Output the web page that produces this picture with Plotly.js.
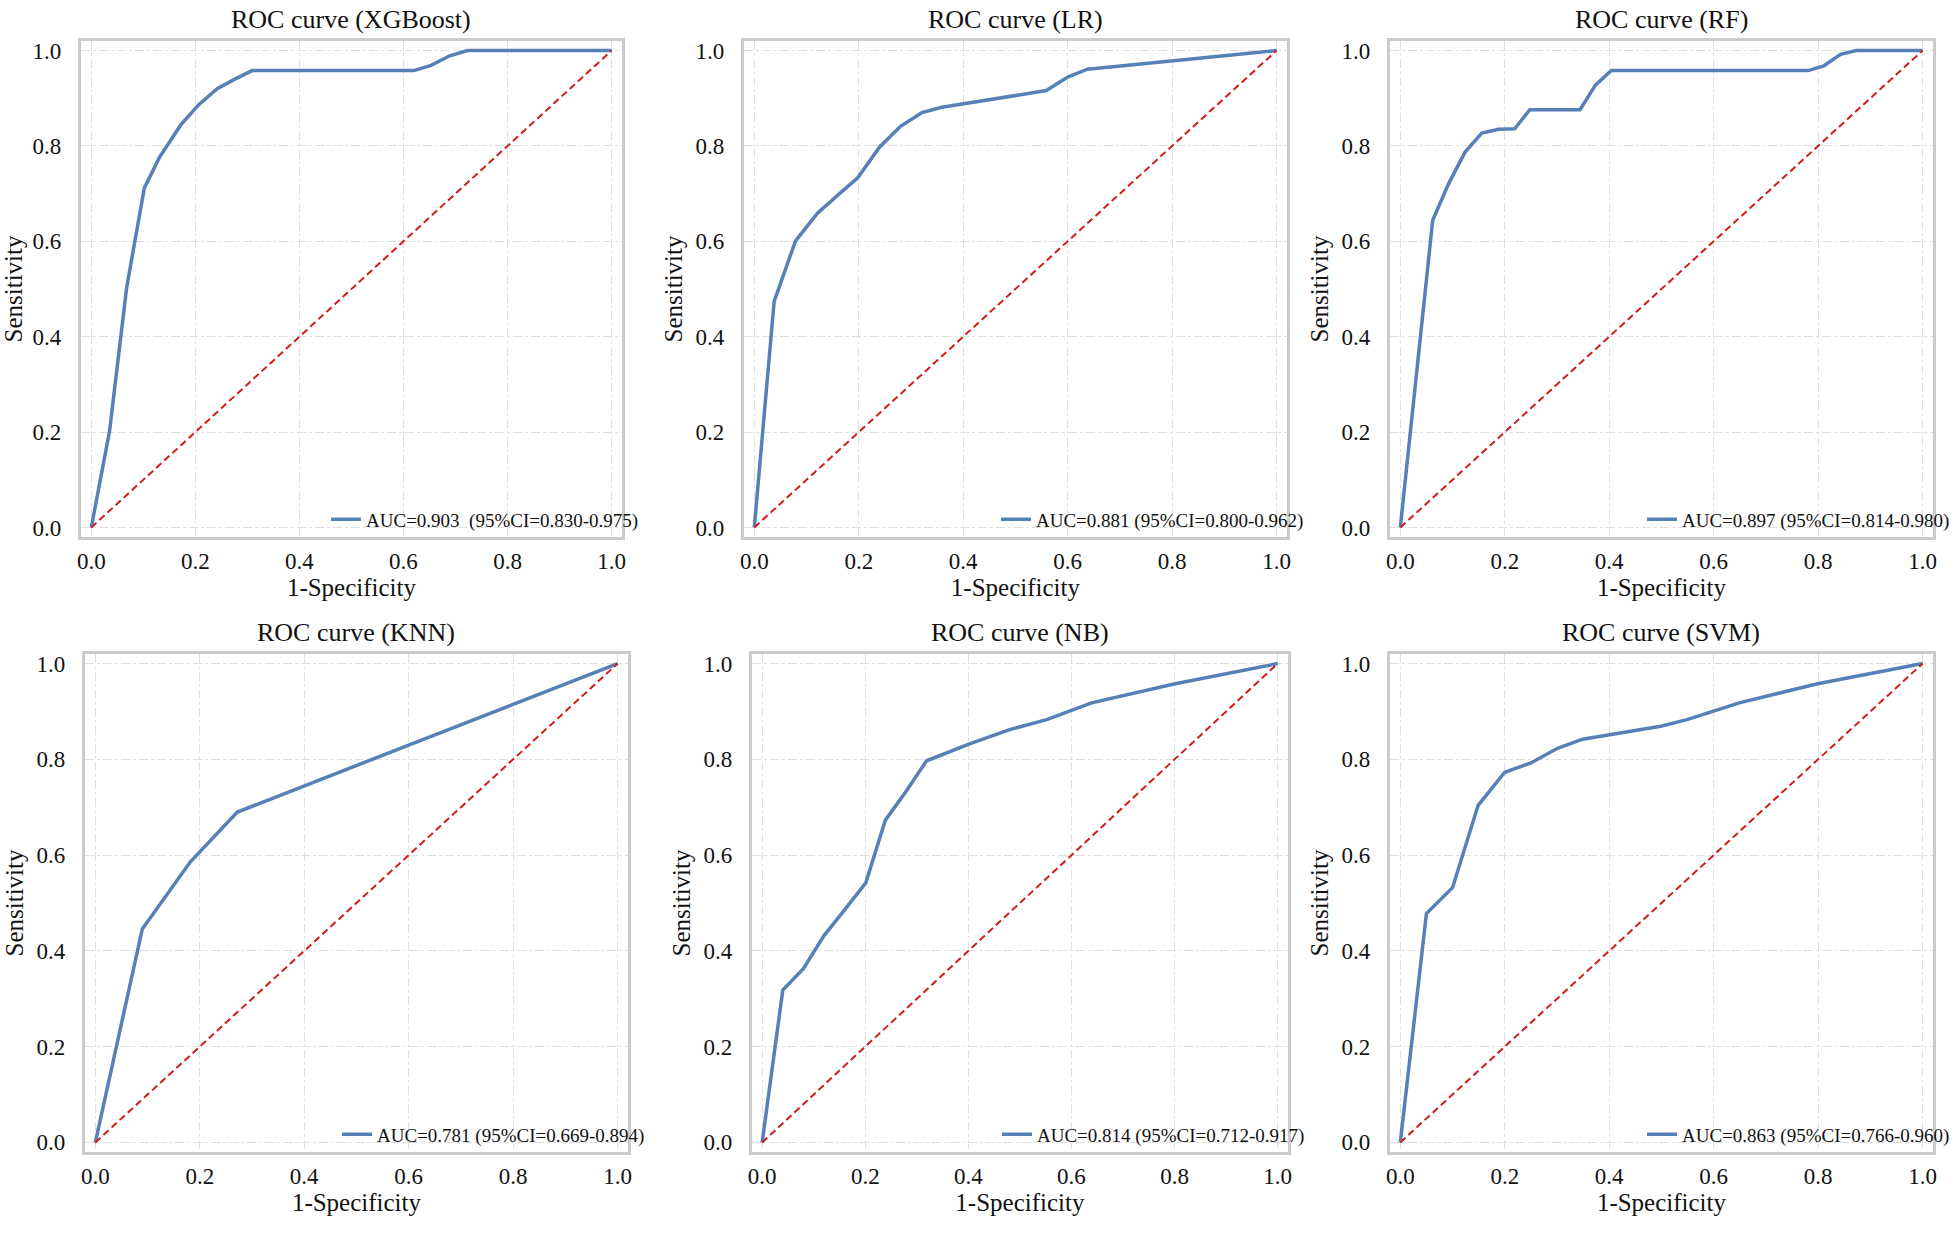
<!DOCTYPE html>
<html>
<head>
<meta charset="utf-8">
<script src="https://cdn.plot.ly/plotly-3.0.1.min.js"></script>
<style>
  html, body { margin: 0; padding: 0; background: #fff; }
  #chart { width: 1955px; height: 1233px; }
</style>
</head>
<body>
<div id="chart"></div>
<script>
// ROC points: x = 1-Specificity, y = Sensitivity
var fpr_xgb = [0, 0.035, 0.068, 0.102, 0.131, 0.172, 0.206, 0.242, 0.274, 0.309, 0.620, 0.653, 0.689, 0.723, 1];
var tpr_xgb = [0, 0.201, 0.503, 0.712, 0.776, 0.844, 0.886, 0.920, 0.939, 0.958, 0.958, 0.969, 0.989, 1.0, 1];

var fpr_lr = [0, 0.038, 0.079, 0.121, 0.161, 0.198, 0.240, 0.280, 0.321, 0.359, 0.559, 0.601, 0.638, 1];
var tpr_lr = [0, 0.474, 0.601, 0.659, 0.698, 0.733, 0.798, 0.841, 0.870, 0.881, 0.916, 0.945, 0.961, 1];

var fpr_rf = [0, 0.062, 0.093, 0.124, 0.156, 0.188, 0.219, 0.248, 0.344, 0.374, 0.404, 0.781, 0.811, 0.843, 0.873, 1];
var tpr_rf = [0, 0.644, 0.722, 0.787, 0.827, 0.835, 0.836, 0.876, 0.876, 0.928, 0.958, 0.958, 0.968, 0.992, 1.0, 1];

var fpr_knn = [0, 0.090, 0.182, 0.272, 1];
var tpr_knn = [0, 0.446, 0.586, 0.690, 1];

var fpr_nb = [0, 0.040, 0.080, 0.120, 0.161, 0.201, 0.239, 0.279, 0.319, 0.401, 0.480, 0.552, 0.639, 0.801, 1];
var tpr_nb = [0, 0.318, 0.363, 0.432, 0.487, 0.542, 0.673, 0.733, 0.797, 0.832, 0.862, 0.883, 0.918, 0.958, 1];

var fpr_svm = [0, 0.050, 0.100, 0.149, 0.200, 0.249, 0.301, 0.349, 0.499, 0.549, 0.649, 0.799, 1];
var tpr_svm = [0, 0.478, 0.532, 0.704, 0.773, 0.792, 0.823, 0.842, 0.869, 0.883, 0.918, 0.958, 1];

var models = ['XGBoost', 'LR', 'RF', 'KNN', 'NB', 'SVM'];
var auc_labels = [
  'AUC=0.903\u00a0 (95%CI=0.830-0.975)',
  'AUC=0.881 (95%CI=0.800-0.962)',
  'AUC=0.897 (95%CI=0.814-0.980)',
  'AUC=0.781 (95%CI=0.669-0.894)',
  'AUC=0.814 (95%CI=0.712-0.917)',
  'AUC=0.863 (95%CI=0.766-0.960)'
];
var diag = [0, 1];
var tick_vals = [0, 0.2, 0.4, 0.6, 0.8, 1.0];
var tick_text = ['0.0', '0.2', '0.4', '0.6', '0.8', '1.0'];

var curves = [
  [fpr_xgb, tpr_xgb], [fpr_lr, tpr_lr], [fpr_rf, tpr_rf],
  [fpr_knn, tpr_knn], [fpr_nb, tpr_nb], [fpr_svm, tpr_svm]
];

var W = 1955, H = 1233;
// plot boxes in page pixels: left, right, top, bottom
var boxes = [
  [81, 623, 41, 537], [745, 1289, 41, 537], [1392, 1936, 41, 537],
  [85, 629, 654, 1152], [753, 1290, 654, 1152], [1392, 1936, 654, 1152]
];
var lo = -0.02, hi = 1.02;
var serif = 'Liberation Serif, Times New Roman, serif';

var data = [];
var layout = {
  width: W, height: H,
  margin: {l: 0, r: 0, t: 0, b: 0},
  paper_bgcolor: '#fff', plot_bgcolor: '#fff',
  font: {family: serif, color: '#111', size: 23},
  annotations: [],
  showlegend: true
};

for (var i = 0; i < 6; i++) {
  var sfx = i === 0 ? '' : String(i + 1);
  var b = boxes[i];

  data.push({
    x: curves[i][0], y: curves[i][1],
    type: 'scatter', mode: 'lines',
    name: auc_labels[i],
    line: {color: '#5581b6', width: 3.5},
    xaxis: 'x' + sfx, yaxis: 'y' + sfx,
    legend: 'legend' + sfx
  });
  data.push({
    x: diag, y: diag,
    type: 'scatter', mode: 'lines',
    showlegend: false,
    line: {color: '#d01c1c', width: 2, dash: '7px,4px'},
    xaxis: 'x' + sfx, yaxis: 'y' + sfx
  });

  layout['xaxis' + sfx] = {
    domain: [b[0] / W, b[1] / W], anchor: 'y' + sfx,
    range: [lo, hi], tickvals: tick_vals, ticktext: tick_text,
    showgrid: true, gridcolor: '#e0e0e0', gridwidth: 1, griddash: 'dashdot',
    zeroline: false, showline: true, mirror: true, linecolor: '#cbcbcb', linewidth: 3,
    ticks: '', ticklabelstandoff: 1, tickfont: {size: 23},
    title: {text: '1-Specificity', font: {size: 25}, standoff: 2},
    fixedrange: true
  };
  layout['yaxis' + sfx] = {
    domain: [1 - b[3] / H, 1 - b[2] / H], anchor: 'x' + sfx,
    range: [lo, hi], tickvals: tick_vals, ticktext: tick_text,
    showgrid: true, gridcolor: '#e0e0e0', gridwidth: 1, griddash: 'dashdot',
    zeroline: false, showline: true, mirror: true, linecolor: '#cbcbcb', linewidth: 3,
    ticks: '', ticklabelstandoff: 12, tickfont: {size: 23},
    title: {text: 'Sensitivity', font: {size: 25}, standoff: 6},
    fixedrange: true
  };

  // legend sits at the lower right, spilling a little past the frame
  var legY = b[3] - (0.017 - lo) / (hi - lo) * (b[3] - b[2]);
  layout['legend' + sfx] = {
    x: (b[1] + 22) / W, xanchor: 'right',
    y: 1 - legY / H, yanchor: 'middle',
    bgcolor: 'rgba(0,0,0,0)', borderwidth: 0,
    font: {family: serif, size: 19, color: '#111'},
    tracegroupgap: 0
  };

  layout.annotations.push({
    text: 'ROC curve (' + models[i] + ')',
    xref: 'x' + sfx + ' domain', yref: 'y' + sfx + ' domain',
    x: 0.5, y: 1, xanchor: 'center', yanchor: 'bottom', yshift: 5,
    showarrow: false, font: {family: serif, size: 26, color: '#111'}
  });
}

Plotly.newPlot('chart', data, layout, {displayModeBar: false, staticPlot: true});
</script>
</body>
</html>
